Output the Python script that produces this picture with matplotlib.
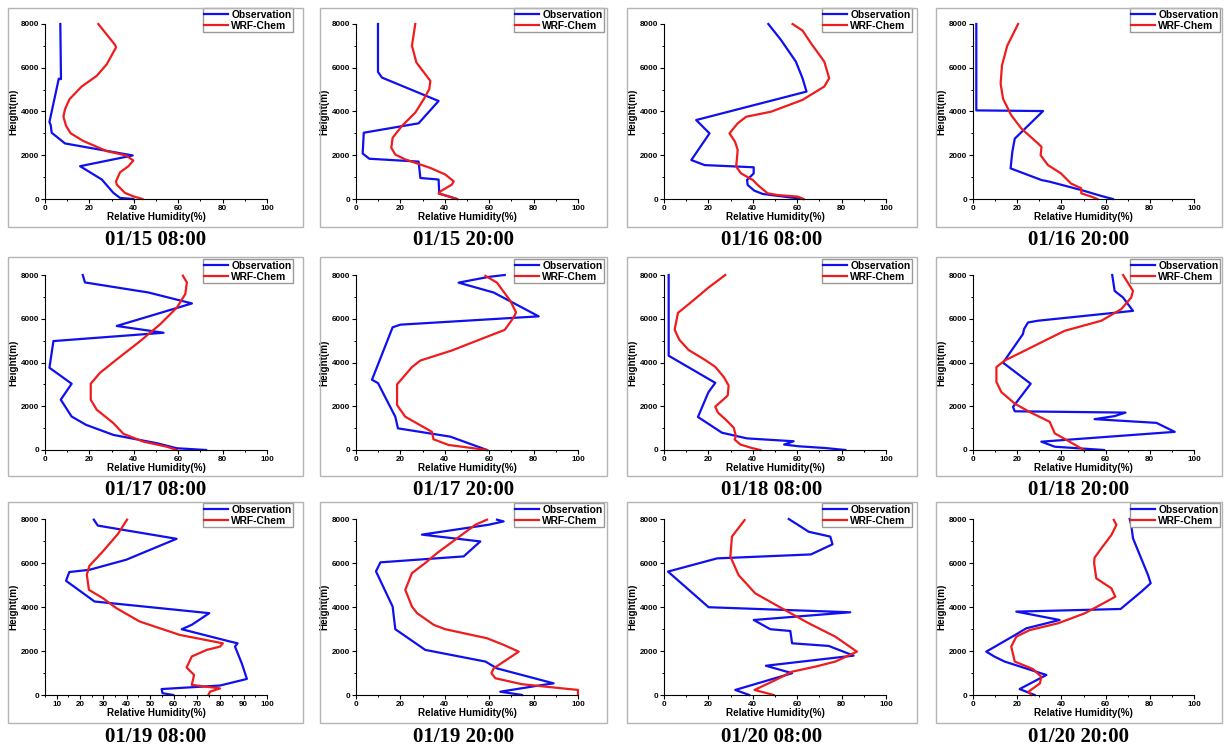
import matplotlib
matplotlib.use("Agg")
import matplotlib.pyplot as plt
from matplotlib.patches import Rectangle
from matplotlib.ticker import MultipleLocator

# ---- data: RH (%) vs height (m), observation and WRF-Chem ----
titles = ["01/15 08:00", "01/15 20:00", "01/16 08:00", "01/16 20:00",
          "01/17 08:00", "01/17 20:00", "01/18 08:00", "01/18 20:00",
          "01/19 08:00", "01/19 20:00", "01/20 08:00", "01/20 20:00"]

obs1_rh = [6.9, 7.2, 6.2, 2.0, 2.6, 3.0, 9.0, 39.5, 15.8, 25.6, 30.8, 33.8, 39.8]
obs1_z = [8000, 5480, 5500, 3520, 3370, 3030, 2540, 1990, 1500, 890, 280, 50, 0]
wrf1_rh = [24.0, 31.6, 32.0, 27.8, 23.3, 16.5, 11.0, 9.0, 8.3, 9.5, 11.6, 17.3, 27.8, 36.5,
           39.8, 37.6, 33.8, 32.0, 32.3, 36.0, 39.8, 43.9]
wrf1_z = [8000, 7040, 6930, 6160, 5630, 5140, 4560, 4100, 3760, 3340, 3000, 2650, 2190, 1990,
          1760, 1500, 1220, 810, 660, 280, 120, 0]

obs2_rh = [9.9, 9.9, 11.7, 37.2, 28.2, 3.5, 3.0, 6.0, 28.2, 29.0, 37.2, 37.5, 45.5]
obs2_z = [8000, 5810, 5550, 4480, 3460, 3030, 2080, 1840, 1710, 960, 890, 250, 0]
wrf2_rh = [26.7, 25.2, 27.2, 33.5, 33.0, 30.5, 26.7, 20.7, 16.5, 15.9, 17.7, 22.2, 33.5, 40.2,
           44.0, 43.2, 38.0, 37.2, 45.5]
wrf2_z = [8000, 7010, 6240, 5400, 5020, 4560, 3950, 3340, 2800, 2340, 2030, 1810, 1420, 1120,
          810, 660, 350, 250, 0]

obs3_rh = [47.0, 52.7, 59.4, 62.4, 64.2, 14.5, 20.5, 12.3, 18.3, 40.4, 40.4, 37.4, 37.7, 40.7,
           44.5, 62.4]
obs3_z = [8000, 7270, 6280, 5520, 4910, 3610, 3000, 1780, 1550, 1450, 1170, 870, 640, 380, 230, 0]
wrf3_rh = [57.9, 62.4, 66.2, 72.2, 74.4, 72.2, 62.4, 48.2, 37.0, 33.2, 29.5, 32.0, 33.2, 32.5,
           34.7, 40.0, 42.2, 46.7, 51.2, 60.2, 62.9]
wrf3_z = [8000, 7700, 7120, 6280, 5520, 5140, 4530, 3990, 3760, 3460, 3000, 2620, 2240, 1480,
          1170, 870, 640, 260, 180, 110, 0]

obs4_rh = [1.5, 1.5, 31.7, 18.9, 17.8, 17.0, 30.9, 34.7, 49.0, 58.0, 63.3]
obs4_z = [8000, 4050, 4020, 2760, 2160, 1400, 870, 790, 410, 140, 0]
wrf4_rh = [20.4, 15.5, 13.1, 12.5, 13.6, 17.3, 21.9, 29.4, 31.0, 30.6, 33.9, 39.8, 44.3, 49.0,
           49.0, 53.5, 56.3]
wrf4_z = [8000, 7010, 6100, 5270, 4580, 3830, 3220, 2540, 2380, 2000, 1550, 1170, 710, 490,
          260, 110, 0]

obs5_rh = [17.0, 18.0, 46.6, 66.2, 32.3, 53.4, 3.8, 2.0, 12.0, 7.1, 12.0, 18.5, 30.8, 50.4,
           59.4, 72.6]
obs5_z = [8000, 7660, 7200, 6700, 5670, 5360, 4980, 3760, 3030, 2300, 1530, 1150, 690, 310, 80, 0]
wrf5_rh = [62.1, 63.9, 63.2, 59.4, 51.9, 42.9, 32.3, 24.8, 20.6, 20.6, 23.3, 30.8, 35.3, 44.4,
           54.9, 59.4]
wrf5_z = [7970, 7660, 7130, 6510, 5750, 4980, 4140, 3530, 3030, 2300, 1840, 1230, 740, 380, 150, 0]

obs6_rh = [67.0, 59.5, 46.2, 62.0, 82.3, 20.0, 16.5, 7.2, 9.9, 17.7, 18.9, 42.5, 59.0]
obs6_z = [8000, 7910, 7650, 7200, 6110, 5730, 5610, 3210, 3060, 1520, 990, 610, 0]
wrf6_rh = [58.3, 63.5, 69.5, 72.1, 71.0, 67.0, 58.3, 43.2, 29.0, 25.2, 18.5, 18.5, 22.2, 34.2,
           34.9, 41.7, 59.0]
wrf6_z = [7960, 7650, 6820, 6290, 6060, 5490, 5150, 4550, 4090, 3790, 3000, 2050, 1520, 830,
          490, 230, 0]

obs7_rh = [2.1, 2.1, 23.1, 20.0, 15.3, 26.1, 37.4, 58.4, 54.1, 60.7, 72.7, 81.7]
obs7_z = [8000, 4310, 3070, 2640, 1510, 790, 530, 400, 250, 170, 90, 0]
wrf7_rh = [27.6, 20.1, 11.9, 6.3, 4.8, 6.9, 11.1, 18.6, 23.1, 26.9, 29.1, 28.7, 23.1, 24.3,
           28.4, 31.4, 32.4, 31.8, 34.4, 39.6, 43.4]
wrf7_z = [8000, 7430, 6730, 6270, 5500, 5040, 4570, 4110, 3800, 3340, 2950, 2490, 1980, 1710,
          1330, 1020, 630, 480, 250, 90, 0]

obs8_rh = [63.0, 64.1, 67.9, 72.4, 29.4, 24.9, 23.1, 22.6, 13.6, 26.1, 18.1, 18.9, 69.0, 64.1,
           55.0, 83.0, 91.3, 30.9, 37.0, 59.3]
obs8_z = [8000, 7270, 6970, 6360, 5910, 5830, 5530, 5300, 3990, 3030, 1970, 1770, 1710, 1550,
          1410, 1240, 830, 380, 150, 0]
wrf8_rh = [67.9, 72.4, 71.6, 67.1, 58.1, 41.5, 30.9, 20.4, 14.3, 10.6, 10.6, 12.8, 18.9, 25.6,
           34.7, 37.0, 43.7, 50.2]
wrf8_z = [8000, 7270, 6970, 6440, 5910, 5450, 4920, 4390, 4090, 3790, 3110, 2650, 2120, 1740,
          1290, 760, 380, 0]

obs9_rh = [25.9, 27.6, 61.3, 39.8, 24.0, 15.4, 14.0, 26.2, 75.3, 67.8, 63.5, 84.2, 87.4, 86.3,
           89.2, 91.4, 79.9, 54.9, 55.3, 59.9]
obs9_z = [7970, 7700, 7100, 6150, 5690, 5590, 5190, 4250, 3720, 3190, 2990, 2430, 2350, 2200,
          1440, 730, 430, 270, 80, 0]
wrf9_rh = [40.1, 36.2, 29.8, 24.0, 22.9, 23.8, 29.8, 35.5, 45.5, 62.7, 81.1, 79.9, 74.2, 67.8,
           65.6, 68.8, 67.8, 79.9, 75.6, 74.9]
wrf9_z = [7970, 7320, 6530, 5870, 5470, 4780, 4400, 3950, 3340, 2730, 2350, 2200, 2050, 1750,
          1250, 910, 460, 300, 150, 0]

obs10_rh = [63.5, 66.5, 59.8, 29.7, 56.0, 48.5, 11.0, 9.0, 16.5, 17.7, 31.2, 58.3, 63.5, 89.0,
            82.3, 65.0, 74.8]
obs10_z = [7970, 7890, 7740, 7290, 6980, 6300, 6030, 5620, 4020, 2990, 2050, 1520, 1210, 530,
           430, 150, 0]
wrf10_rh = [59.0, 53.8, 44.7, 36.5, 31.2, 25.2, 22.2, 25.2, 27.5, 35.0, 40.2, 59.0, 66.5, 73.3,
            62.0, 61.0, 62.8, 74.8, 85.3, 100.0, 100.0]
wrf10_z = [7970, 7740, 7060, 6450, 6000, 5540, 4780, 4020, 3720, 3190, 2990, 2580, 2280, 1970,
           1210, 990, 760, 490, 380, 230, 0]

obs11_rh = [56.2, 65.2, 74.9, 75.9, 66.2, 23.9, 1.8, 20.1, 83.9, 40.4, 47.9, 56.9, 57.7, 74.2,
            85.4, 45.9, 57.7, 32.1, 38.4]
obs11_z = [8000, 7420, 7200, 6850, 6390, 6210, 5610, 3990, 3760, 3410, 2990, 2910, 2350, 2230,
           1790, 1330, 990, 230, 0]
wrf11_rh = [36.3, 30.6, 29.9, 33.6, 41.1, 51.7, 65.2, 77.2, 86.9, 77.2, 68.2, 57.7, 50.2, 40.8, 49.4]
wrf11_z = [7950, 7200, 6290, 5450, 4620, 4020, 3260, 2650, 1970, 1520, 1290, 1060, 680, 230, 0]

obs12_rh = [70.9, 71.6, 72.4, 79.2, 80.4, 76.2, 66.8, 19.6, 39.2, 24.1, 19.6, 6.0, 9.8, 14.3,
            33.2, 21.1, 27.9]
obs12_z = [8000, 7730, 7120, 5450, 5080, 4700, 3910, 3790, 3410, 3030, 2760, 1970, 1740, 1520,
           910, 270, 0]
wrf12_rh = [63.7, 64.9, 62.6, 58.1, 55.0, 54.8, 55.8, 62.6, 64.4, 60.3, 50.5, 38.5, 25.6, 19.6,
            17.3, 18.9, 27.1, 30.9, 30.3, 25.1, 26.4]
wrf12_z = [7960, 7730, 7270, 6670, 6240, 5990, 5300, 4850, 4470, 4240, 3710, 3260, 2950, 2650,
           2200, 1520, 1180, 830, 530, 150, 0]

obs_rh = [obs1_rh, obs2_rh, obs3_rh, obs4_rh, obs5_rh, obs6_rh,
          obs7_rh, obs8_rh, obs9_rh, obs10_rh, obs11_rh, obs12_rh]
obs_z = [obs1_z, obs2_z, obs3_z, obs4_z, obs5_z, obs6_z,
         obs7_z, obs8_z, obs9_z, obs10_z, obs11_z, obs12_z]
wrf_rh = [wrf1_rh, wrf2_rh, wrf3_rh, wrf4_rh, wrf5_rh, wrf6_rh,
          wrf7_rh, wrf8_rh, wrf9_rh, wrf10_rh, wrf11_rh, wrf12_rh]
wrf_z = [wrf1_z, wrf2_z, wrf3_z, wrf4_z, wrf5_z, wrf6_z,
         wrf7_z, wrf8_z, wrf9_z, wrf10_z, wrf11_z, wrf12_z]

# ---- layout (pixels) ----
W, H = 1224, 750
col_ax = [(45, 267), (356, 578), (664, 886), (973, 1194)]
row_ax = [(24, 199), (275, 450), (519, 695)]
col_frame = [(8, 303), (320, 607), (627, 917), (936, 1222)]
row_frame = [(8, 227), (257, 476), (502, 723)]
title_y = [240, 490, 737]

SANS = "Liberation Sans"
SERIF = "Liberation Serif"

fig = plt.figure(figsize=(W / 100, H / 100), dpi=100)

for i in range(12):
    r, c = divmod(i, 4)
    x0, x1 = col_ax[c]
    yt, yb = row_ax[r]
    fx0, fx1 = col_frame[c]
    fyt, fyb = row_frame[r]

    # gray frame round each panel
    fig.add_artist(Rectangle((fx0 / W, 1 - fyb / H), (fx1 - fx0) / W, (fyb - fyt) / H,
                             transform=fig.transFigure, fill=False,
                             edgecolor="#b4b4b4", lw=1.0))

    ax = fig.add_axes([x0 / W, 1 - yb / H, (x1 - x0) / W, (yb - yt) / H])
    ax.plot(obs_rh[i], obs_z[i], color="#1010ee", lw=1.6, label="Observation", clip_on=False)
    ax.plot(wrf_rh[i], wrf_z[i], color="#ee1c1c", lw=1.6, label="WRF-Chem", clip_on=False)

    ax.set_ylim(0, 8000)
    if i == 8:
        ax.set_xlim(5, 100)
        ax.set_xticks(range(10, 101, 10))
        ax.xaxis.set_minor_locator(MultipleLocator(5))
    else:
        ax.set_xlim(0, 100)
        ax.set_xticks(range(0, 101, 20))
        ax.xaxis.set_minor_locator(MultipleLocator(10))
    ax.set_yticks(range(0, 8001, 2000))
    ax.yaxis.set_minor_locator(MultipleLocator(1000))

    for s in ("top", "right"):
        ax.spines[s].set_visible(False)
    for s in ("left", "bottom"):
        ax.spines[s].set_linewidth(0.8)

    ax.tick_params(which="major", direction="out", length=2.6, width=0.8, labelsize=5.8, pad=1.5)
    ax.tick_params(which="minor", direction="out", length=1.6, width=0.7)
    for lab in ax.get_xticklabels() + ax.get_yticklabels():
        lab.set_fontfamily(SANS)
        lab.set_fontweight("bold")

    ax.set_xlabel("Relative Humidity(%)", fontsize=7.1, fontweight="bold",
                  fontfamily=SANS, labelpad=0.5)
    ax.set_ylabel("Height(m)", fontsize=7.1, fontweight="bold", fontfamily=SANS)
    ax.yaxis.set_label_coords(-27 / (x1 - x0), 0.5)

    ax.legend(loc="upper right", bbox_to_anchor=((x1 + 26) / W, 1 - (yt - 16) / H),
              bbox_transform=fig.transFigure, prop={"family": SANS, "weight": "bold", "size": 7.4},
              frameon=True, fancybox=False, edgecolor="#999999", framealpha=1,
              borderpad=0.15, labelspacing=0.1, handlelength=2.3, handletextpad=0.3,
              borderaxespad=0)

    fig.text((fx0 + fx1) / 2 / W, 1 - title_y[r] / H, titles[i], ha="center", va="center",
             fontsize=15, fontweight="bold", fontfamily=SERIF)

fig.savefig("out.png", dpi=100)
